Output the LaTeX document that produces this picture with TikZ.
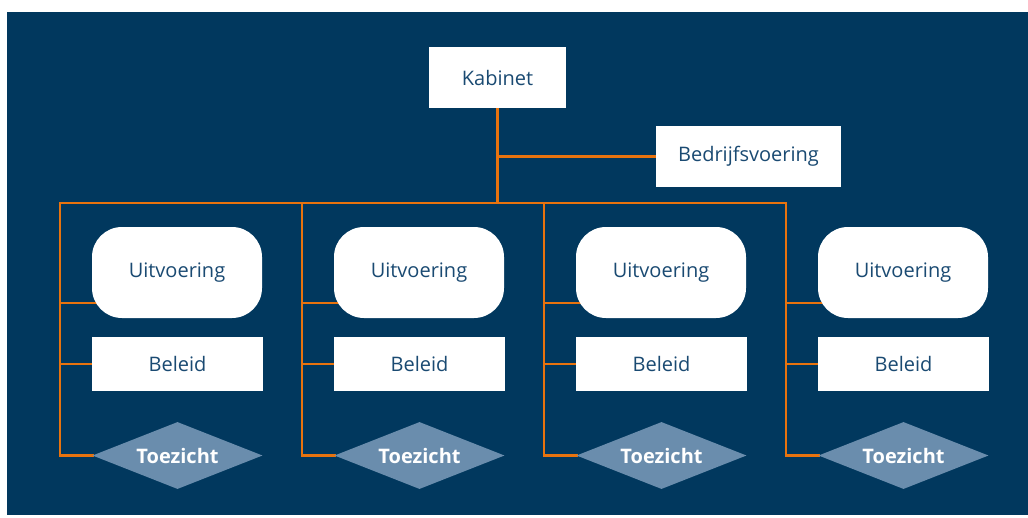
\documentclass[tikz,border=0pt]{standalone}
\usepackage{fontspec}
\setmainfont{Open Sans}
\usetikzlibrary{shapes.geometric, calc, backgrounds}
\definecolor{rijksblauw}{HTML}{01385E}
\definecolor{tekstblauw}{HTML}{1A4A72}
\definecolor{lijnoranje}{HTML}{E8730E}
\definecolor{ruitblauw}{HTML}{6A8DAD}

\begin{document}
\begin{tikzpicture}[x=1pt, y=-1pt,
    lijn/.style={draw=lijnoranje, line width=2.5pt, line cap=rect},
    vak/.style={fill=white, text=tekstblauw, font=\fontsize{20}{24}\selectfont, inner sep=0pt},
    ruit/.style={diamond, aspect=2.54, fill=ruitblauw, text=white, inner sep=0pt,
        minimum width=170pt, minimum height=67pt, font=\fontsize{20}{24}\selectfont\bfseries}]
    \useasboundingbox (0, 0) rectangle (1028, 517);
    % top of the tree
    \node[vak, minimum width=137pt, minimum height=61pt] (k) at (497.5, 77.5) {Kabinet};
    \node[vak, minimum width=185pt, minimum height=61pt] (bv) at (748.5, 156.5) {Bedrijfsvoering};
    % four columns
    \foreach \i in {0, 1, 2, 3} {
        \coordinate (s\i) at (60+242*\i, 203);
        \node[vak, rounded corners=30pt, minimum width=170pt, minimum height=91pt] (u\i) at (177+242*\i, 272.5) {Uitvoering};
        \node[vak, minimum width=171pt, minimum height=54pt] (b\i) at (177.5+242*\i, 364) {Beleid};
        \node[ruit] (t\i) at (177.5+242*\i, 455.5) {Toezicht};
        \coordinate (ua\i) at ($(u\i.south)+(0, -15)$);
    }
    \begin{scope}[on background layer]
        \fill[white] (0, 0) rectangle (1028, 517);
        \fill[rijksblauw] (7, 12) rectangle (1028, 515);
        \draw[lijn] (k.south) -- (k.south |- s0);
        \draw[lijn] (k.south |- bv.west) -- (bv.west);
        \draw[lijn] (s0) -- (s3);
        \foreach \i in {0, 1, 2, 3} {
            \draw[lijn] (s\i) -- (s\i |- t\i.west) -- (t\i.west);
            \draw[lijn] (s\i |- ua\i) -- (ua\i);
            \draw[lijn] (s\i |- b\i.west) -- (b\i.west);
        }
    \end{scope}
\end{tikzpicture}
\end{document}
